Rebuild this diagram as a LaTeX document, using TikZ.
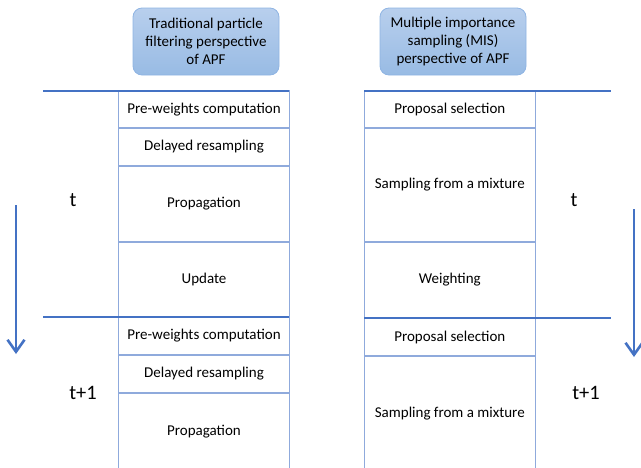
\documentclass[tikz,border=0pt]{standalone}
\usepackage{fontspec}
\setmainfont{Carlito}
\usetikzlibrary{arrows.meta,positioning}
\definecolor{lineblue}{RGB}{68,114,196}
\definecolor{cellblue}{RGB}{143,170,220}
\definecolor{titletop}{RGB}{184,207,237}
\definecolor{titlebot}{RGB}{152,187,228}
\definecolor{titleedge}{RGB}{143,180,227}
\tikzset{
  titlebox/.style={rectangle, rounded corners=9pt, draw=titleedge, line width=0.8pt,
                   top color=titletop, bottom color=titlebot, minimum width=146pt,
                   minimum height=67pt, align=center, font=\fontsize{15}{18}\selectfont},
  cell/.style    ={rectangle, draw=cellblue, line width=1.2pt, inner sep=0pt, outer sep=0pt,
                   align=center, font=\fontsize{15}{18}\selectfont},
  lcell/.style   ={cell, minimum width=170.6pt},
  rcell/.style   ={cell, minimum width=171pt},
  sep/.style     ={draw=lineblue, line width=2.6pt},
  timeflow/.style={draw=lineblue, line width=2.6pt, -{Straight Barb[length=12pt,width=17pt]}},
  tlabel/.style  ={font=\fontsize{20.5}{24}\selectfont, inner sep=0pt}
}
\begin{document}
\begin{tikzpicture}[x=1pt,y=-1pt]
\useasboundingbox (0,0) rectangle (641,467);
% perspectives
\node[titlebox] (pfview)  at (206,41.5) {Traditional particle\\filtering perspective\\of APF};
\node[titlebox] (misview) at (453,41.5) {Multiple importance\\sampling (MIS)\\perspective of APF};
% particle filtering steps
\node[lcell, minimum height=37pt, anchor=north west] (lpw1) at (118.7,91) {Pre-weights computation};
\node[lcell, minimum height=38pt, below=0pt of lpw1] (ldr1) {Delayed resampling};
\node[lcell, minimum height=76pt, below=0pt of ldr1] (lpr1) {Propagation};
\node[lcell, minimum height=75pt, below=0pt of lpr1] (lup1) {Update};
\node[lcell, minimum height=38pt, below=0pt of lup1] (lpw2) {Pre-weights computation};
\node[lcell, minimum height=38pt, below=0pt of lpw2] (ldr2) {Delayed resampling};
\node[lcell, minimum height=78pt, below=0pt of ldr2] (lpr2) {Propagation};
% MIS steps
\node[rcell, minimum height=37pt, anchor=north west] (rps1) at (364.3,91) {Proposal selection};
\node[rcell, minimum height=114pt, below=0pt of rps1] (rsm1) {Sampling from a mixture};
\node[rcell, minimum height=76pt, below=0pt of rsm1] (rwt1) {Weighting};
\node[rcell, minimum height=38pt, below=0pt of rwt1] (rps2) {Proposal selection};
\node[rcell, minimum height=115pt, below=0pt of rps2] (rsm2) {Sampling from a mixture};
% time step separators
\coordinate (lstart1) at (43,91);
\coordinate (lstart2) at (43,317);
\coordinate (rend1) at (611,91);
\coordinate (rend2) at (611,318);
\draw[sep] (lstart1) -- (lpw1.north east);
\draw[sep] (lstart2) -- (lup1.south east);
\draw[sep] (rps1.north west) -- (rend1);
\draw[sep] (rwt1.south west) -- (rend2);
% time labels
\node[tlabel] (lt)  at (73,200) {t};
\node[tlabel] (lt1) at (83,393) {t+1};
\node[tlabel] (rt)  at (574,200) {t};
\node[tlabel] (rt1) at (586,393) {t+1};
% time arrows
\coordinate (larrtop) at (16,205);
\coordinate (larrbot) at (16,354);
\coordinate (rarrtop) at (634,209);
\coordinate (rarrbot) at (634,357);
\draw[timeflow] (larrtop) -- (larrbot);
\draw[timeflow] (rarrtop) -- (rarrbot);
\end{tikzpicture}
\end{document}
